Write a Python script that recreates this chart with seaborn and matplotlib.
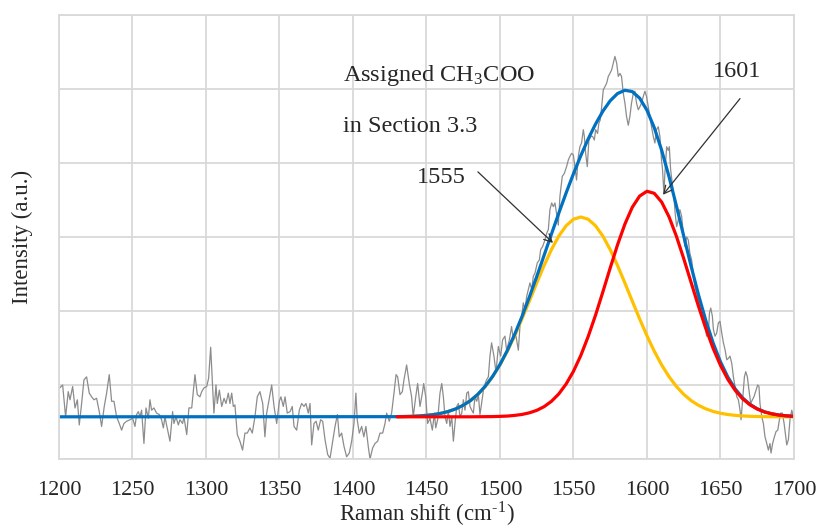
import matplotlib
matplotlib.use("Agg")
import matplotlib.pyplot as plt
import seaborn as sns

# ---------------- data ----------------
x_ticks = [1200, 1250, 1300, 1350, 1400, 1450, 1500, 1550, 1600, 1650, 1700]

# measured (noisy) Raman spectrum
gray_x = [1200, 1202.5, 1204.5, 1206.3, 1207.5, 1209.3, 1210.9, 1212.5, 1213.8, 1215.4, 1217, 1218.8,
          1220.6, 1222.2, 1223.8, 1225.6, 1227.4, 1229, 1230.8, 1232.4, 1234.2, 1235.8, 1237.4, 1239.2,
          1241, 1242.6, 1244.2, 1246, 1248.3, 1250.1, 1251.7, 1252.8, 1254, 1255.1, 1256.2, 1257.8,
          1259.2, 1260.8, 1261.9, 1263, 1264.6, 1266.4, 1268.3, 1269.8, 1271, 1272.1, 1273.2, 1275.5,
          1277.3, 1278.2, 1279.6, 1281.2, 1282.3, 1284.1, 1285, 1286.9, 1288.4, 1290.3, 1292.5, 1294.1,
          1295.9, 1297.1, 1298.6, 1300.5, 1301.8, 1303.2, 1304.5, 1305.4, 1306.8, 1307.7, 1309.1, 1310.7,
          1312.3, 1313.6, 1315.2, 1316.3, 1317.5, 1318.6, 1319.7, 1321.3, 1323.1, 1324.9, 1326.5, 1328.1,
          1329.9, 1331.5, 1333.3, 1334.9, 1336.7, 1338.6, 1340.1, 1341.3, 1343.1, 1344.7, 1346.3, 1348.1,
          1349.9, 1351, 1352.6, 1353.8, 1355.3, 1357.2, 1358.7, 1359.9, 1361.7, 1363.5, 1365.1, 1366.7,
          1368, 1369.6, 1370.8, 1371.9, 1373.5, 1374.9, 1376.4, 1378, 1379.4, 1381, 1382.8, 1384.4,
          1386.2, 1387.8, 1389.4, 1390.7, 1392.3, 1393.9, 1395.7, 1397.5, 1399.1, 1400.7, 1402, 1402.9,
          1404.3, 1405.9, 1407.4, 1408.8, 1410.4, 1411.6, 1413.4, 1415, 1416.8, 1418.4, 1420.2, 1421.8,
          1422.9, 1424.7, 1426.3, 1427.9, 1429.3, 1430.4, 1432, 1433.6, 1434.7, 1436.5, 1438.3, 1439.9,
          1441, 1442.7, 1444, 1445.6, 1447.2, 1448.1, 1449.5, 1450.8, 1452.4, 1454, 1455.4, 1456.3,
          1457.6, 1459.2, 1460.4, 1461.5, 1462.6, 1463.8, 1464.9, 1466, 1467.2, 1468.3, 1469.4, 1470.6,
          1471.7, 1472.8, 1474, 1475.1, 1476.2, 1477.4, 1478.5, 1479.6, 1480.8, 1481.9, 1483, 1484.2,
          1485.3, 1486.4, 1487.5, 1489.1, 1490.9, 1492.1, 1493.2, 1494.3, 1495.9, 1497.3, 1498.9, 1500.5,
          1501.8, 1503.4, 1504.5, 1506.4, 1507.9, 1509.1, 1510.9, 1512.5, 1513.6, 1514.8, 1515.9, 1517,
          1518.2, 1519.3, 1520.4, 1521.6, 1522.7, 1523.8, 1525.4, 1526.8, 1527.7, 1529, 1530.6, 1531.8,
          1532.9, 1534, 1535.2, 1536.3, 1537.4, 1538.5, 1539.7, 1540.8, 1542.4, 1543.8, 1545.3, 1546.5,
          1547.6, 1548.7, 1549.9, 1551, 1552.1, 1553.3, 1554.4, 1555.5, 1556.7, 1557.4, 1558.3, 1559.4,
          1560.5, 1561.9, 1563, 1564.2, 1565.1, 1566.4, 1567.3, 1568.2, 1569.2, 1570.3, 1571.4, 1572.6,
          1573.7, 1574.8, 1576, 1577.1, 1578.2, 1579.4, 1580.5, 1581.6, 1582.7, 1583.9, 1585, 1586.1,
          1587.3, 1588.4, 1589.5, 1590.7, 1591.8, 1592.9, 1594.1, 1595.2, 1596.3, 1597.5, 1598.6, 1599.7,
          1600.9, 1602, 1603.1, 1604.3, 1605.4, 1606.5, 1607.7, 1608.8, 1609.9, 1610.6, 1611.5, 1612.2,
          1613.4, 1614.5, 1615.2, 1616.1, 1617.2, 1618.3, 1619.2, 1620.2, 1621.3, 1622.4, 1623.6, 1624.7,
          1625.8, 1627, 1628.1, 1629.2, 1630.4, 1631.5, 1632.6, 1633.8, 1634.9, 1636.1, 1637.2, 1638.4,
          1639.5, 1640.6, 1641.8, 1642.5, 1643.4, 1644.5, 1645.2, 1646.3, 1647.4, 1648.6, 1649.7, 1650.9,
          1652, 1653.1, 1654.3, 1655.4, 1656.5, 1657.7, 1658.8, 1659.9, 1661.1, 1662.2, 1663.3, 1664,
          1664.9, 1666.3, 1667.2, 1668.3, 1669.4, 1670.6, 1671.7, 1672.8, 1674.2, 1675.3, 1676.2, 1676.9,
          1678.1, 1679.2, 1680.3, 1681.5, 1682.6, 1683.7, 1684.4, 1685.5, 1686.7, 1687.8, 1689, 1690.1,
          1691, 1692.1, 1693.3, 1694.4, 1695.1, 1696.2, 1697.3, 1698.5, 1699.6, 1700]
gray_y = [38, 43, 0, 34, 23, 41, 12, 23, -11, 18, 50, 54,
          32, 27, 23, 25, 7, -13, 14, 32, 57, 21, 21, 0,
          -9, -18, -9, -6, -4, -2, -13, 3, 7, 0, 9, -36,
          12, -2, 23, 9, 12, 5, 3, -4, -15, 0, -11, -33,
          7, -9, 0, -11, -4, -9, 0, -24, 12, 12, 57, 30,
          27, 34, 39, 41, 52, 94, 41, 5, 43, 18, 36, 14,
          25, 18, 32, 18, 32, 14, 16, -24, -33, -45, -22, -22,
          -15, -22, 0, 27, 34, 18, -27, 5, 25, 43, 14, -9,
          21, 27, 14, 27, 5, 7, 14, -13, -18, 9, 18, 14,
          18, 5, 18, -38, -9, -6, -18, -4, -6, -31, -51, -56,
          -33, -13, 3, -27, -22, -40, -54, -49, -33, -9, 32, -4,
          -22, -13, -27, -13, -40, -57, -42, -36, -33, -22, -22, -9,
          5, -6, 5, 32, 57, 54, 30, 34, 50, 70, 45, 27,
          0, 27, 45, 14, 32, 45, 27, -9, -2, -18, 5, -15,
          -4, 32, 45, 27, 0, -9, 9, -13, 0, -33, -9, 14,
          18, 0, 5, 23, 9, 32, 34, 14, 9, 5, 27, 21,
          30, 3, 18, 41, 50, 54, 82, 100, 82, 60, 95, 82,
          104, 109, 90, 104, 122, 104, 109, 90, 122, 136, 154, 145,
          163, 172, 181, 172, 190, 194, 208, 212, 226, 230, 239, 248,
          253, 280, 289, 284, 289, 275, 259, 298, 325, 329, 338, 347,
          352, 356, 354, 338, 320, 352, 365, 370, 388, 379, 356, 338,
          374, 379, 379, 374, 388, 383, 397, 401, 419, 442, 446, 451,
          460, 464, 469, 478, 487, 478, 460, 464, 460, 437, 424, 406,
          394, 406, 424, 437, 440, 424, 415, 419, 424, 433, 440, 433,
          419, 406, 392, 379, 370, 388, 392, 379, 347, 334, 302, 329,
          365, 360, 365, 334, 316, 298, 275, 257, 266, 280, 271, 248,
          230, 243, 239, 221, 212, 194, 176, 167, 158, 149, 136, 127,
          122, 109, 113, 140, 147, 136, 118, 109, 113, 127, 129, 113,
          100, 91, 77, 79, 82, 72, 54, 41, 27, 23, 9, -4,
          18, 54, 61, 54, 36, 18, 23, 27, 36, 43, 41, 18,
          0, -9, -27, -36, -45, -36, -49, -36, -27, -20, -18, -4,
          5, 5, -9, -27, -38, -31, -4, 9, 0, -18]

# fitted components (sampled along the fitted curves)
fit_x = [1430, 1435, 1440, 1445, 1450, 1455, 1460, 1465, 1470, 1475, 1480, 1485, 1490, 1495,
         1500, 1505, 1510, 1515, 1520, 1525, 1530, 1535, 1540, 1545, 1550, 1555, 1560, 1565,
         1570, 1575, 1580, 1585, 1590, 1595, 1600, 1605, 1610, 1615, 1620, 1625, 1630, 1635,
         1640, 1645, 1650, 1655, 1660, 1665, 1670, 1675, 1680, 1685, 1690, 1695, 1700]
band_1555 = [0.2, 0.4, 0.7, 1.2, 2.0, 3.1, 4.8, 7.3, 10.8, 15.6, 22.0, 30.4, 41.1, 54.3,
             70.1, 88.6, 109.5, 132.4, 156.4, 180.8, 204.4, 225.9, 244.2, 258.2, 267.0, 270.0, 267.0, 258.2,
             244.2, 225.9, 204.4, 180.8, 156.4, 132.4, 109.5, 88.6, 70.1, 54.3, 41.1, 30.4, 22.0, 15.6,
             10.8, 7.3, 4.8, 3.1, 2.0, 1.2, 0.7, 0.4, 0.2, 0.1, 0.0, 0.0, 0.0]
band_1601 = [0.0, 0.0, 0.0, 0.0, 0.0, 0.0, 0.0, 0.0, 0.0, 0.0, 0.0, 0.1, 0.2, 0.3,
             0.6, 1.0, 1.9, 3.2, 5.4, 8.7, 13.7, 20.9, 30.9, 44.3, 61.5, 82.9, 108.4, 137.3,
             168.8, 201.2, 232.5, 260.5, 283.1, 298.3, 304.8, 302.0, 290.2, 270.3, 244.2, 213.9, 181.8, 149.7,
             119.6, 92.6, 69.6, 50.7, 35.8, 24.5, 16.3, 10.5, 6.5, 4.0, 2.3, 1.3, 0.7]
sum_x = [1200] + fit_x
sum_fit = [0.0, 0.2, 0.4, 0.7, 1.2, 2.0, 3.1, 4.8, 7.3, 10.8, 15.6, 22.0, 30.5, 41.3, 54.6,
           70.7, 89.6, 111.4, 135.6, 161.8, 189.5, 218.1, 246.8, 275.1, 302.5, 328.5, 352.9, 375.4, 395.5,
           413.0, 427.1, 436.9, 441.3, 439.5, 430.7, 414.3, 390.6, 360.3, 324.6, 285.3, 244.3, 203.8, 165.3,
           130.4, 99.9, 74.4, 53.8, 37.8, 25.7, 17.0, 10.9, 6.7, 4.1, 2.3, 1.3, 0.7]
grid_y = [-57, 43, 143, 243, 343, 443, 543]

# ---------------- plot ----------------
sns.set_style("white")
plt.rcParams["font.family"] = ["Liberation Serif", "DejaVu Serif"]
plt.rcParams["mathtext.fontset"] = "stix"

fig = plt.figure(figsize=(8.18, 5.28), dpi=100)
ax = fig.add_axes([0.0721, 0.1307, 0.8985, 0.8409])

sns.lineplot(x=gray_x, y=gray_y, ax=ax, color="#8c8c8c", lw=0.9, estimator=None, sort=False)
sns.lineplot(x=fit_x, y=band_1555, ax=ax, color="#FFC000", lw=2.3, estimator=None, sort=False)
sns.lineplot(x=sum_x, y=sum_fit, ax=ax, color="#0070C0", lw=2.3, estimator=None, sort=False)
sns.lineplot(x=fit_x, y=band_1601, ax=ax, color="#FF0000", lw=2.3, estimator=None, sort=False)

ax.set_xlim(1200, 1700)
ax.set_ylim(-57, 543)
ax.set_xticks(x_ticks)
ax.set_xticklabels([str(t) for t in x_ticks], fontsize=16)
ax.set_yticks(grid_y)
ax.set_yticklabels([])
ax.tick_params(length=0, axis="x", pad=16)
ax.tick_params(length=0, axis="y")
ax.grid(True, color="#d9d9d9", lw=1.3)
ax.set_axisbelow(True)
for s in ax.spines.values():
    s.set_color("#d9d9d9")
    s.set_linewidth(1.3)
ax.set_xlabel("")
ax.set_ylabel("")

fig.text(426.5 / 818, 1 - 514 / 528, "Raman shift (cm$^{\\mathregular{\u2010}\\mathregular{1}}$)",
         fontsize=16.5, ha="center", va="center")
fig.text(22 / 818, 1 - 237 / 528, "Intensity (a.u.)", fontsize=16.5, rotation=90,
         ha="center", va="center")

ax.text(1393.2, 454, "Assigned CH$_\\mathregular{3}$COO", fontsize=17.5, va="baseline", ha="left")
ax.text(1393.2, 385, "in Section 3.3", fontsize=17.5, va="baseline", ha="left")
ax.text(1443.5, 316, "1555", fontsize=17.5, va="baseline", ha="left")
ax.text(1644.9, 459, "1601", fontsize=17.5, va="baseline", ha="left")

arrow = dict(arrowstyle="->", color="#303030", lw=0.9, shrinkA=0, shrinkB=0, mutation_scale=14)
ax.annotate("", xy=(1536.1, 235), xytext=(1485.0, 331), arrowprops=arrow)
ax.annotate("", xy=(1610.9, 300), xytext=(1663.3, 430), arrowprops=arrow)

fig.savefig("out.png", dpi=100)
